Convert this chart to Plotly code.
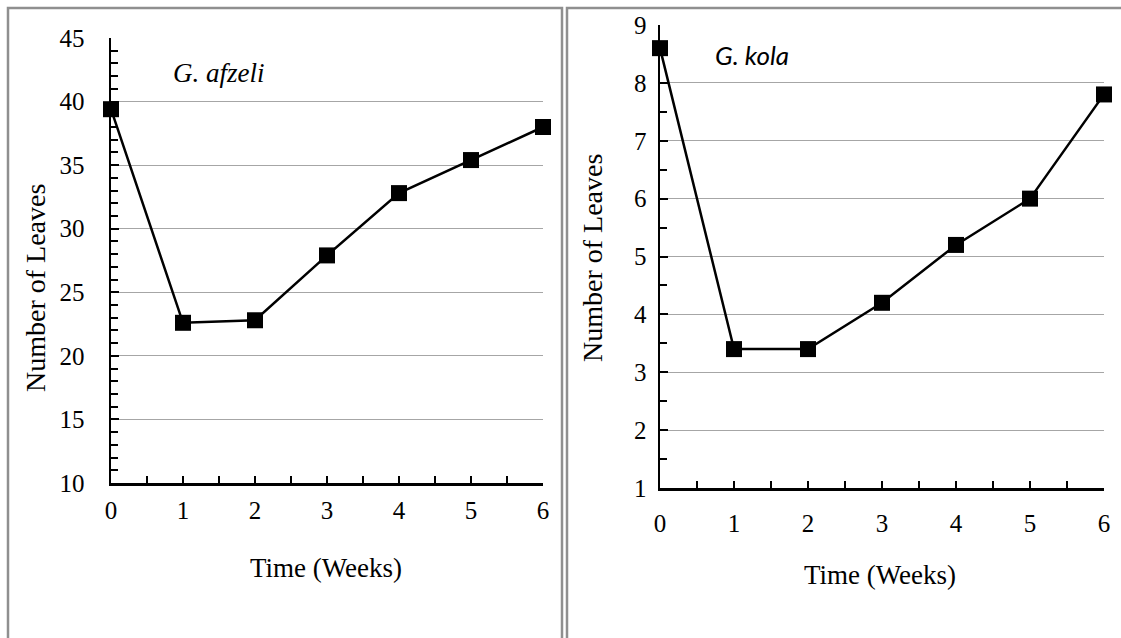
import plotly.graph_objects as go

weeks = [0, 1, 2, 3, 4, 5, 6]
afzeli_leaves = [39.4, 22.6, 22.8, 27.9, 32.8, 35.4, 38.0]
kola_leaves = [8.6, 3.4, 3.4, 4.2, 5.2, 6.0, 7.8]

W, H = 1121, 638
SERIF = "Liberation Serif"

def px(x):
    return x / W

def py(y):
    return 1 - y / H

fig = go.Figure()

common_line = dict(color="black", width=2.5)
common_marker = dict(symbol="square", size=16, color="black")

fig.add_trace(go.Scatter(x=weeks, y=afzeli_leaves, mode="lines+markers",
                         line=common_line, marker=common_marker,
                         cliponaxis=False, xaxis="x", yaxis="y", showlegend=False))
fig.add_trace(go.Scatter(x=weeks, y=kola_leaves, mode="lines+markers",
                         line=common_line, marker=common_marker,
                         cliponaxis=False, xaxis="x2", yaxis="y2", showlegend=False))

tickfont = dict(family=SERIF, size=25, color="black")

def xaxis_cfg(domain, anchor, standoff):
    return dict(domain=domain, anchor=anchor, range=[0, 6], dtick=1, tick0=0,
                showgrid=False, zeroline=False, showline=True, linecolor="black",
                linewidth=2.5, ticks="inside", ticklen=7, tickwidth=2,
                tickcolor="black", tickfont=tickfont, ticklabelstandoff=standoff,
                automargin=False,
                minor=dict(dtick=0.5, tick0=0, ticks="inside", ticklen=7,
                           tickwidth=2, tickcolor="black", showgrid=False),
                fixedrange=True)

def yaxis_cfg(domain, anchor, rng, dtick, minor_dtick, standoff):
    return dict(domain=domain, anchor=anchor, range=rng, dtick=dtick, tick0=rng[0],
                showgrid=True, gridcolor="#a6a6a6", gridwidth=1.2, zeroline=False,
                showline=True, linecolor="black", linewidth=2.5, ticks="inside",
                ticklen=8, tickwidth=2, tickcolor="black", tickfont=tickfont,
                ticklabelstandoff=standoff, automargin=False,
                minor=dict(dtick=minor_dtick, tick0=rng[0], ticks="inside", ticklen=7,
                           tickwidth=2, tickcolor="black", showgrid=False),
                fixedrange=True)

fig.update_layout(
    width=W, height=H, autosize=False,
    margin=dict(l=0, r=0, t=0, b=0, pad=0),
    paper_bgcolor="white", plot_bgcolor="white",
    xaxis=xaxis_cfg([px(111), px(543)], "y", 3),
    yaxis=yaxis_cfg([py(483), py(38)], "x", [10, 45], 5, 1, 19),
    xaxis2=xaxis_cfg([px(660), px(1104)], "y2", 11),
    yaxis2=yaxis_cfg([py(488), py(25)], "x2", [1, 9], 1, 0.5, 6),
)

annotations = [
    dict(x=px(219), y=py(73), text="<i>G. afzeli</i>",
         font=dict(family=SERIF, size=27, color="black")),
    dict(x=px(752), y=py(55), text="<i>G. kola</i>",
         font=dict(family="Lato", size=26, color="black")),
    dict(x=px(35), y=py(288), text="Number of Leaves", textangle=-90,
         font=dict(family=SERIF, size=28, color="black")),
    dict(x=px(592), y=py(258), text="Number of Leaves", textangle=-90,
         font=dict(family=SERIF, size=28, color="black")),
    dict(x=px(326), y=py(568), text="Time (Weeks)",
         font=dict(family=SERIF, size=27, color="black")),
    dict(x=px(880), y=py(575), text="Time (Weeks)",
         font=dict(family=SERIF, size=27, color="black")),
]
for a in annotations:
    a.update(xref="paper", yref="paper", showarrow=False,
             xanchor="center", yanchor="middle")
fig.update_layout(annotations=annotations)

border = dict(color="#8f8f8f", width=2.5)
fig.update_layout(shapes=[
    dict(type="rect", xref="paper", yref="paper", x0=px(8), x1=px(562),
         y0=-0.05, y1=py(8), line=border),
    dict(type="rect", xref="paper", yref="paper", x0=px(567), x1=1.05,
         y0=-0.05, y1=py(8), line=border),
])

fig.write_html(
    "out.html",
    config={"displayModeBar": False, "staticPlot": True},
    post_script="document.body.style.margin='0';document.body.style.overflow='hidden';",
)
